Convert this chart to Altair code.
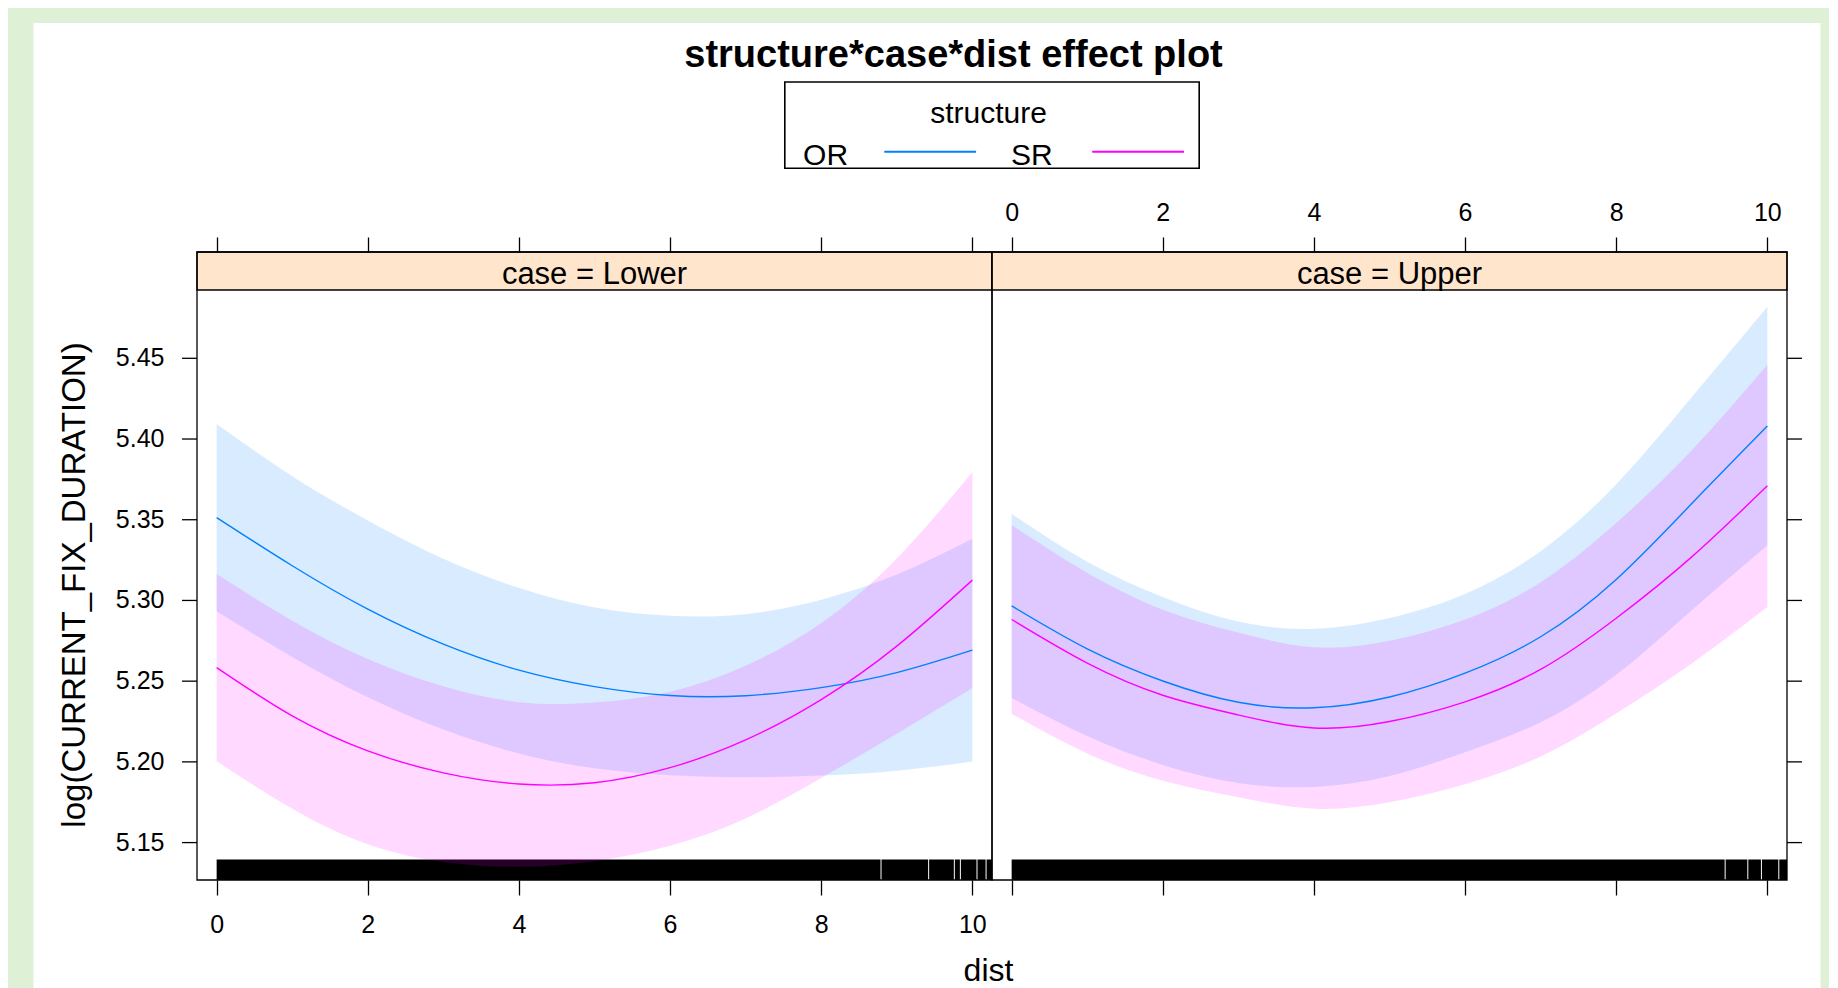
import altair as alt
import pandas as pd

# ------------------------------------------------------------------ data
DIST = [0, 1, 2, 3, 4, 5, 6, 7, 8, 9, 10]
CASES = ["Lower", "Upper"]
STRUCTURES = ["OR", "SR"]

LOWER_OR_FIT = [5.3513, 5.3215, 5.2946, 5.2729, 5.2568, 5.2466, 5.2411, 5.2410, 5.2460, 5.2553, 5.2692]
LOWER_OR_LO = [5.2933, 5.2650, 5.2400, 5.2200, 5.2052, 5.1960, 5.1917, 5.1905, 5.1915, 5.1945, 5.2002]
LOWER_OR_HI = [5.4093, 5.3770, 5.3496, 5.3259, 5.3078, 5.2956, 5.2905, 5.2915, 5.3005, 5.3160, 5.3382]

LOWER_SR_FIT = [5.2584, 5.2285, 5.2068, 5.1932, 5.1863, 5.1871, 5.1964, 5.2136, 5.2386, 5.2717, 5.3126]
LOWER_SR_LO = [5.2004, 5.1710, 5.1490, 5.1380, 5.1350, 5.1385, 5.1480, 5.1650, 5.1900, 5.2175, 5.2456]
LOWER_SR_HI = [5.3164, 5.2875, 5.2638, 5.2468, 5.2370, 5.2368, 5.2435, 5.2595, 5.2860, 5.3260, 5.3796]

UPPER_OR_FIT = [5.2966, 5.2700, 5.2501, 5.2369, 5.2335, 5.2402, 5.2550, 5.2775, 5.3130, 5.3600, 5.4080]
UPPER_OR_LO = [5.2396, 5.2160, 5.1981, 5.1869, 5.1845, 5.1912, 5.2060, 5.2245, 5.2540, 5.2940, 5.3340]
UPPER_OR_HI = [5.3536, 5.3240, 5.3021, 5.2869, 5.2825, 5.2892, 5.3040, 5.3305, 5.3720, 5.4260, 5.4820]

UPPER_SR_FIT = [5.2882, 5.2612, 5.2413, 5.2291, 5.2210, 5.2250, 5.2372, 5.2573, 5.2890, 5.3270, 5.3710]
UPPER_SR_LO = [5.2297, 5.2052, 5.1883, 5.1781, 5.1710, 5.1750, 5.1862, 5.2033, 5.2300, 5.2610, 5.2960]
UPPER_SR_HI = [5.3467, 5.3172, 5.2943, 5.2801, 5.2710, 5.2750, 5.2882, 5.3113, 5.3480, 5.3930, 5.4460]

# rug: stretches of the dist axis covered by observations (black band)
RUG_LOWER_START = [0.0, 8.798, 9.428, 9.768, 9.848, 10.068, 10.188]
RUG_LOWER_END = [8.785, 9.415, 9.755, 9.835, 10.055, 10.175, 10.6]
RUG_UPPER_START = [0.0, 9.448, 9.748, 9.928, 10.158]
RUG_UPPER_END = [9.435, 9.735, 9.915, 10.145, 10.6]

X_TICKS = [0, 2, 4, 6, 8, 10]
Y_TICKS = [5.15, 5.20, 5.25, 5.30, 5.35, 5.40, 5.45]

TITLE = "structure*case*dist effect plot"
Y_TITLE = "log(CURRENT_FIX_DURATION)"
X_TITLE = "dist"
LEGEND_TITLE = "structure"

SERIES = {
    ("Lower", "OR"): (LOWER_OR_FIT, LOWER_OR_LO, LOWER_OR_HI),
    ("Lower", "SR"): (LOWER_SR_FIT, LOWER_SR_LO, LOWER_SR_HI),
    ("Upper", "OR"): (UPPER_OR_FIT, UPPER_OR_LO, UPPER_OR_HI),
    ("Upper", "SR"): (UPPER_SR_FIT, UPPER_SR_LO, UPPER_SR_HI),
}
RUGS = {
    "Lower": (RUG_LOWER_START, RUG_LOWER_END),
    "Upper": (RUG_UPPER_START, RUG_UPPER_END),
}

rows = []
for (case, s), (fit, lo, hi) in SERIES.items():
    for d, f, l, h in zip(DIST, fit, lo, hi):
        rows.append({"case": case, "structure": s, "dist": d, "fit": f, "lower": l, "upper": h})
df = pd.DataFrame(rows)
ytick_df = pd.DataFrame({"v": Y_TICKS})

# ------------------------------------------------------------------ style
FONT = "Liberation Sans, Arial, Helvetica, sans-serif"
GREEN = "#def1d7"
STRIP_FILL = "#ffe5cc"
COLORS = ["#0080ff", "#ff00ff"]
W, H = 795, 628
STRIP_H = 38
RUG_H = 20.5
TICK_LEN = 15
X_DOMAIN = [-0.26, 10.26]
Y_DOMAIN = [5.12683, 5.51585]
CURVE = "natural"

x_scale = alt.Scale(domain=X_DOMAIN, nice=False, zero=False)
y_scale = alt.Scale(domain=Y_DOMAIN, nice=False, zero=False)
color_scale = alt.Scale(domain=STRUCTURES, range=COLORS)

TICK = dict(tickSize=TICK_LEN, tickColor="black", tickWidth=1.3, domain=False, grid=False,
            labelFont=FONT, labelFontSize=25, labelColor="black",
            labelFlush=False, labelOverlap=False, zindex=2)


def deco():
    return alt.Chart(alt.Data(values=[{"k": 1}]))


def panel(case, first):
    sub = df[df["case"] == case]
    starts, ends = RUGS[case]
    rug_df = pd.DataFrame({"start": starts, "end": ends})

    if first:
        x_bottom = alt.Axis(orient="bottom", values=X_TICKS, labelPadding=17,
                            title=X_TITLE, titleFont=FONT, titleFontSize=32,
                            titleFontWeight="normal", titleColor="black",
                            titleX=791, titleY=100, titleBaseline="alphabetic",
                            titleAlign="center", **TICK)
        x_top = alt.Axis(orient="top", values=X_TICKS, labels=False, title="", **TICK)
    else:
        x_bottom = alt.Axis(orient="bottom", values=X_TICKS, labels=False, title="", **TICK)
        x_top = alt.Axis(orient="top", values=X_TICKS, labelPadding=11.5, title="", **TICK)

    strip = deco().mark_rect(fill=STRIP_FILL, stroke="black", strokeWidth=1.3).encode(
        x=alt.value(0), x2=alt.value(W), y=alt.value(0), y2=alt.value(STRIP_H))
    strip_text = deco().mark_text(text=f"case = {case}", font=FONT, fontSize=31,
                                  color="black", align="center", baseline="alphabetic").encode(
        x=alt.value(W / 2), y=alt.value(31.5))
    rug = alt.Chart(rug_df).mark_rect(color="black", clip=True).encode(
        x=alt.X("start:Q", scale=x_scale, axis=None), x2="end:Q",
        y=alt.value(H), y2=alt.value(H - RUG_H))
    bands = alt.Chart(sub).mark_area(opacity=0.15, interpolate=CURVE, clip=True).encode(
        x=alt.X("dist:Q", scale=x_scale, axis=x_bottom),
        y=alt.Y("lower:Q", scale=y_scale, axis=None),
        y2="upper:Q",
        color=alt.Color("structure:N", scale=color_scale, legend=None),
        detail="structure:N")
    lines = alt.Chart(sub).mark_line(strokeWidth=1.4, interpolate=CURVE, clip=True).encode(
        x=alt.X("dist:Q", scale=x_scale, axis=x_top),
        y=alt.Y("fit:Q", scale=y_scale, axis=None),
        color=alt.Color("structure:N", scale=color_scale, legend=None))
    frame = deco().mark_rect(fillOpacity=0, stroke="black", strokeWidth=1.3).encode(
        x=alt.value(0), x2=alt.value(W), y=alt.value(0), y2=alt.value(H))

    # y ticks (left panel: outside left with labels; right panel: outside right)
    if first:
        yticks = alt.Chart(ytick_df).mark_rule(color="black", strokeWidth=1.3).encode(
            y=alt.Y("v:Q", scale=y_scale, axis=None),
            x=alt.value(-TICK_LEN), x2=alt.value(0))
    else:
        yticks = alt.Chart(ytick_df).mark_rule(color="black", strokeWidth=1.3).encode(
            y=alt.Y("v:Q", scale=y_scale, axis=None),
            x=alt.value(W), x2=alt.value(W + TICK_LEN))

    layers = []
    if first:
        bg = deco().mark_rect(color="white").encode(
            x=alt.value(-163.5), x2=alt.value(1623.5), y=alt.value(-229), y2=alt.value(737))
        title = deco().mark_text(text=TITLE, font=FONT, fontSize=38, fontWeight="bold",
                                 color="black", align="center", baseline="alphabetic").encode(
            x=alt.value(756.5), y=alt.value(-185.3))
        box = deco().mark_rect(fillOpacity=0, stroke="black", strokeWidth=1.6).encode(
            x=alt.value(587.8), x2=alt.value(1002.2), y=alt.value(-170), y2=alt.value(-83.7))
        ltitle = deco().mark_text(text=LEGEND_TITLE, font=FONT, fontSize=30, color="black",
                                  align="center", baseline="alphabetic").encode(
            x=alt.value(791.5), y=alt.value(-129.3))
        layers += [bg, title, box, ltitle]
        for i, s in enumerate(STRUCTURES):
            x0 = 606.1 + i * 207.9
            layers.append(deco().mark_text(text=s, font=FONT, fontSize=30, color="black",
                                           align="left", baseline="alphabetic").encode(
                x=alt.value(x0), y=alt.value(-87)))
            layers.append(deco().mark_rule(color=COLORS[i], strokeWidth=2).encode(
                x=alt.value(x0 + 81.2), x2=alt.value(x0 + 173), y=alt.value(-100.3)))
        ylabels = alt.Chart(ytick_df).mark_text(font=FONT, fontSize=25, color="black",
                                                align="right", baseline="middle").encode(
            y=alt.Y("v:Q", scale=y_scale, axis=None),
            x=alt.value(-32.5),
            text=alt.Text("v:Q", format=".2f"))
        ytitle = deco().mark_text(text=Y_TITLE, angle=270, font=FONT, fontSize=33,
                                  color="black", align="center", baseline="middle").encode(
            x=alt.value(-122.5), y=alt.value(333))
        layers += [ylabels, ytitle]
    layers += [strip, strip_text, rug, bands, lines, frame, yticks]
    return alt.layer(*layers).properties(width=W, height=H)


chart = alt.hconcat(panel("Lower", True), panel("Upper", False), spacing=0, bounds="flush").properties(
    padding={"left": 25, "top": 14, "right": 8, "bottom": 0},
    background=GREEN,
).configure_view(stroke="transparent")

chart.save("out.html", embed_options={"renderer": "svg", "actions": False})
